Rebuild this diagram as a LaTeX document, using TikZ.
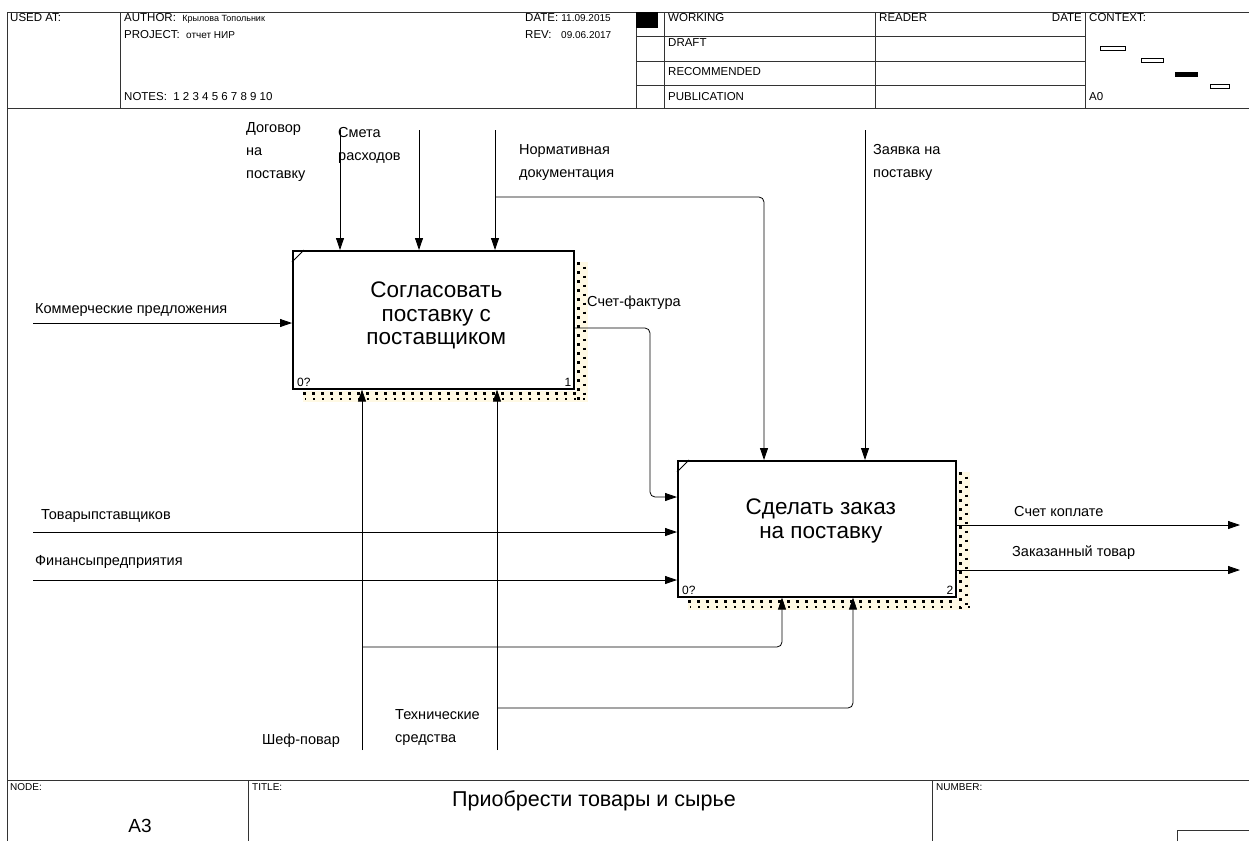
\documentclass[tikz,border=0pt]{standalone}
\usepackage{fontspec}
\setmainfont{Liberation Sans}
\usetikzlibrary{arrows.meta}
\definecolor{shadowbg}{RGB}{255,249,228}
\newcommand\lblfont{\fontsize{14.5}{23}\selectfont}
\newcommand\hdrfont{\fontsize{11.5}{12}\selectfont}
\newcommand\boxfont{\fontsize{22.5}{23.5}\selectfont}
\tikzset{
  frameline/.style={draw=black!80, line width=0.9pt},
  actbox/.style={draw, line width=1.6pt, fill=white, anchor=north west, inner sep=0pt},
  arr/.style={draw, line width=0.8pt, rounded corners=5pt, -{Triangle[length=12pt,width=8pt]}},
  lbl/.style={inner sep=0pt, font=\lblfont, align=left},
  hdr/.style={inner sep=0pt, font=\hdrfont, anchor=west},
  dotsA/.style={line width=3.2pt, dash pattern=on 3.2pt off 5.8pt},
  dotsB/.style={line width=2.4pt, dash pattern=on 2.4pt off 6.6pt, dash phase=4.5pt},
  ctxbox/.style={draw, line width=0.7pt, fill=white}
}
\begin{document}
\begin{tikzpicture}[x=1pt,y=-1pt]
\useasboundingbox (0,0) rectangle (1249,841);
\fill[white] (0,0) rectangle (1249,841);

% frame and header
\draw[frameline] (1249,12) -- (7,12) -- (7,841);
\draw[frameline] (7,108) -- (1249,108);
\draw[frameline] (120,12) -- (120,108);
\draw[frameline] (636,12) -- (636,108);
\draw[frameline] (664,12) -- (664,108);
\draw[frameline] (875,12) -- (875,108);
\draw[frameline] (1085,12) -- (1085,108);
\foreach \yy in {36,61,85}
  \draw[frameline] (636,\yy) -- (1085,\yy);
\fill (636,12) rectangle (658,28);

\node[hdr] (usedat) at (10,18) {USED AT:};
\node[hdr] (author) at (124,18) {AUTHOR:\ \ {\fontsize{9}{10}\selectfont Крылова Топольник}};
\node[hdr] (project) at (124,35) {PROJECT:\ \ {\fontsize{10}{10}\selectfont отчет НИР}};
\node[hdr] (notes) at (124,97) {NOTES:\ \ 1 2 3 4 5 6 7 8 9 10};
\node[hdr] (date) at (525,18) {DATE:\ {\fontsize{10}{10}\selectfont 11.09.2015}};
\node[hdr] (rev) at (525,35) {REV:\ \ \ {\fontsize{10}{10}\selectfont 09.06.2017}};
\node[hdr] (working) at (668,18) {WORKING};
\node[hdr] (draft) at (668,43) {DRAFT};
\node[hdr] (recom) at (668,72) {RECOMMENDED};
\node[hdr] (public) at (668,97) {PUBLICATION};
\node[hdr] (reader) at (879,18) {READER};
\node[hdr, anchor=east] (rdate) at (1082,18) {DATE};
\node[hdr] (context) at (1089,18) {CONTEXT:};
\node[hdr] (ctxnode) at (1089,97) {A0};
\draw[ctxbox] (1100,46) rectangle (1125,50);
\draw[ctxbox] (1141,58) rectangle (1163,62);
\draw[ctxbox, fill=black] (1175,72) rectangle (1197,76);
\draw[ctxbox] (1210,84) rectangle (1229,88);

% footer
\draw[frameline] (7,780) -- (1249,780);
\draw[frameline] (248,780) -- (248,841);
\draw[frameline] (932,780) -- (932,841);
\draw[frameline] (1177,841) -- (1177,830) -- (1249,830);
\node[hdr, font=\fontsize{10}{10}\selectfont] (nodelbl) at (10,787) {NODE:};
\node[hdr, font=\fontsize{10}{10}\selectfont] (titlelbl) at (252,787) {TITLE:};
\node[hdr, font=\fontsize{10}{10}\selectfont] (numlbl) at (936,787) {NUMBER:};
\node[inner sep=0pt, font=\fontsize{19}{20}\selectfont] (nodeid) at (140,826) {A3};
\node[inner sep=0pt, font=\fontsize{21.5}{22}\selectfont] (title) at (594,801) {Приобрести товары и сырье};

% activity boxes
\node[actbox, minimum width=281pt, minimum height=138pt] (b1) at (292,250) {};
\node[actbox, minimum width=278pt, minimum height=136pt] (b2) at (677,460) {};

\foreach \b in {b1,b2} {
  \fill[shadowbg] ([xshift=1pt,yshift=-12pt]\b.north east) rectangle ([xshift=13pt,yshift=-12pt]\b.south east);
  \fill[shadowbg] ([xshift=11pt,yshift=-1pt]\b.south west) rectangle ([xshift=13pt,yshift=-12pt]\b.south east);
  \draw[dotsA] ([xshift=4pt,yshift=-12pt]\b.north east) -- ([xshift=4pt,yshift=-11pt]\b.south east);
  \draw[dotsB] ([xshift=10pt,yshift=-12pt]\b.north east) -- ([xshift=10pt,yshift=-11pt]\b.south east);
  \draw[dotsA] ([xshift=11pt,yshift=-4pt]\b.south west) -- ([xshift=1pt,yshift=-4pt]\b.south east);
  \draw[dotsB, dash phase=1pt] ([xshift=13pt,yshift=-9.5pt]\b.south west) -- ([xshift=13pt,yshift=-9.5pt]\b.south east);
  \draw[line width=1pt] ([yshift=-12pt]\b.north west) -- ([xshift=12pt]\b.north west);
  \node[inner sep=0pt, font=\fontsize{12}{12}\selectfont, anchor=south west] (\b num) at ([xshift=5pt,yshift=3pt]\b.south west) {0?};
}
\node[inner sep=0pt, font=\fontsize{12}{12}\selectfont, anchor=south east] (b1id) at ([xshift=-3pt,yshift=3pt]b1.south east) {1};
\node[inner sep=0pt, font=\fontsize{12}{12}\selectfont, anchor=south east] (b2id) at ([xshift=-3pt,yshift=3pt]b2.south east) {2};
\node[inner sep=0pt, font=\boxfont, align=center] (b1txt) at ([xshift=3pt,yshift=4pt]b1.center) {Согласовать\\поставку с\\поставщиком};
\node[inner sep=0pt, font=\boxfont, align=center] (b2txt) at ([xshift=4pt,yshift=8pt]b2.center) {Сделать заказ\\ на поставку};

% inputs
\coordinate (in1) at (33,323);
\coordinate (in2) at (33,532);
\coordinate (in3) at (33,580);
\draw[arr] (in1) -- (in1 -| b1.west);
\draw[arr] (in2) -- (in2 -| b2.west);
\draw[arr] (in3) -- (in3 -| b2.west);
\node[lbl, anchor=west] (in1lbl) at (35,310) {Коммерческие предложения};
\node[lbl, anchor=west] (in2lbl) at (41,516) {Товарыпставщиков};
\node[lbl, anchor=west] (in3lbl) at (35,562) {Финансыпредприятия};

% controls
\coordinate (c1) at (340,130);
\coordinate (c2) at (419,130);
\coordinate (c3) at (495,130);
\coordinate (c3b) at (495,197);
\coordinate (c4) at (764,197);
\coordinate (c5) at (865,130);
\draw[arr] (c1) -- (c1 |- b1.north);
\draw[arr] (c2) -- (c2 |- b1.north);
\draw[arr] (c3) -- (c3 |- b1.north);
\draw[arr] (c3b) -- (c4) -- (c4 |- b2.north);
\draw[arr] (c5) -- (c5 |- b2.north);
\node[lbl, anchor=north west] (c1lbl) at (246,122) {Договор\\на\\поставку};
\node[lbl, anchor=north west] (c2lbl) at (338,127) {Смета\\расходов};
\node[lbl, anchor=north west] (c3lbl) at (519,144) {Нормативная\\документация};
\node[lbl, anchor=north west] (c5lbl) at (873,144) {Заявка на\\поставку};

% output of box 1 into box 2
\coordinate (sfa) at (650,328);
\coordinate (sfb) at (650,497);
\draw[arr] (sfa -| b1.east) -- (sfa) -- (sfb) -- (sfb -| b2.west);
\node[lbl, anchor=west] (sflbl) at (587,303) {Счет-фактура};

% mechanisms
\coordinate (m1) at (362,750);
\coordinate (m1b) at (362,647);
\coordinate (m1c) at (782,647);
\coordinate (m2) at (497,750);
\coordinate (m2b) at (497,708);
\coordinate (m2c) at (853,708);
\draw[arr] (m1) -- (m1 |- b1.south);
\draw[arr] (m2) -- (m2 |- b1.south);
\draw[arr] (m1b) -- (m1c) -- (m1c |- b2.south);
\draw[arr] (m2b) -- (m2c) -- (m2c |- b2.south);
\node[lbl, anchor=east] (m1lbl) at (340,741) {Шеф-повар};
\node[lbl, anchor=north west] (m2lbl) at (395,709) {Технические\\средства};

% outputs
\coordinate (o1) at (1240,525);
\coordinate (o2) at (1240,570);
\draw[arr] (o1 -| b2.east) -- (o1);
\draw[arr] (o2 -| b2.east) -- (o2);
\node[lbl, anchor=west] (o1lbl) at (1014,511) {Счет коплате};
\node[lbl, anchor=west] (o2lbl) at (1012,553) {Заказанный товар};
\end{tikzpicture}
\end{document}
